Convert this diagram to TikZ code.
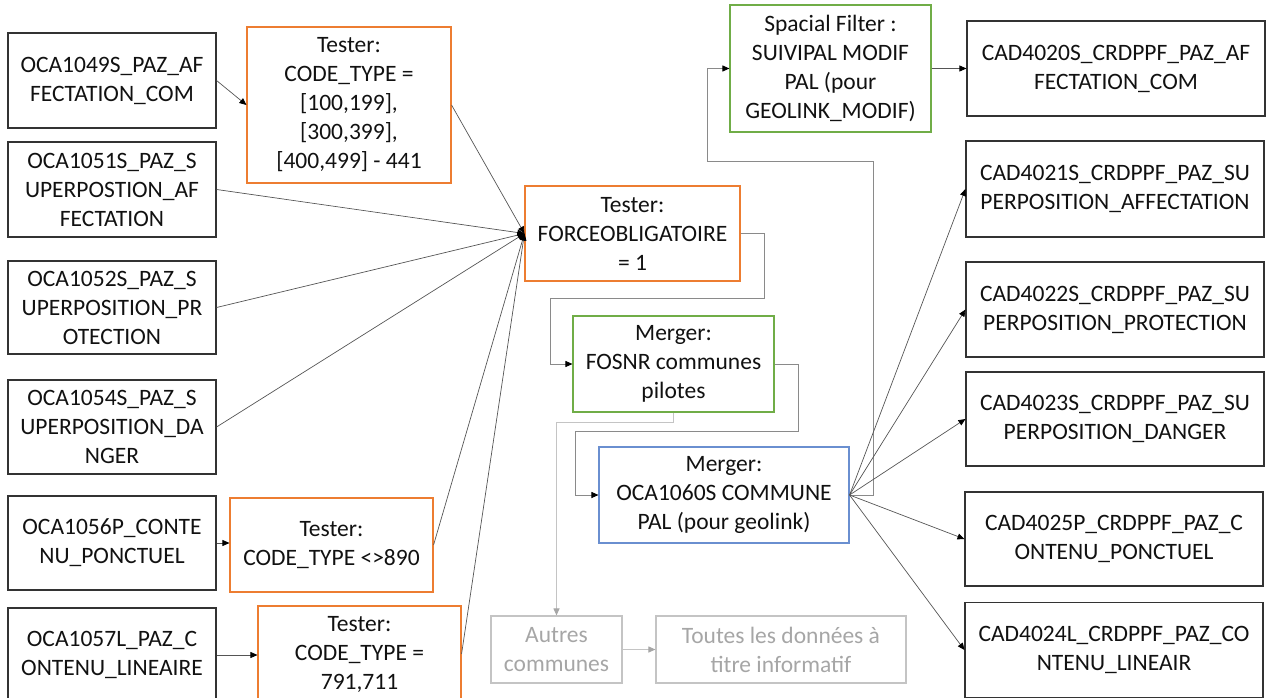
\documentclass[tikz,border=0pt]{standalone}
\usepackage{fontspec}
\setmainfont{Carlito}
\usetikzlibrary{arrows.meta}
\definecolor{orng}{HTML}{ED7D31}
\definecolor{grn}{HTML}{70AD47}
\definecolor{blu}{HTML}{6A8FD0}
\definecolor{txt}{HTML}{111111}
\definecolor{conn}{HTML}{555555}
\definecolor{elb}{HTML}{8A8A8A}
\definecolor{lgr}{HTML}{C4C4C4}
\definecolor{gtx}{HTML}{A6A6A6}
\tikzset{
  box/.style={draw, line width=1.1pt, inner sep=0pt, align=center, text=txt,
    font=\fontsize{23.5}{29}\selectfont},
  blk/.style={box, draw=black!80},
  org/.style={box, draw=orng},
  gre/.style={box, draw=grn},
  blb/.style={box, draw=blu},
  gry/.style={box, draw=lgr, text=gtx},
  arr/.style={draw=conn, line width=0.7pt, -{Triangle[length=7pt,width=6pt,color=black]}},
  elbarr/.style={draw=elb, line width=0.9pt, -{Triangle[length=7pt,width=6pt,color=black]}},
  garr/.style={draw=lgr, line width=0.9pt, -{Triangle[length=7pt,width=6pt,color=gtx]}},
}
\begin{document}
\begin{tikzpicture}[x=1pt,y=-1pt]
\useasboundingbox (0,0) rectangle (1268,698);
% left inputs
\node[blk, minimum width=208pt, minimum height=95pt] (l1) at (112,80.5) {OCA1049S\_PAZ\_AF\\FECTATION\_COM};
\node[blk, minimum width=208pt, minimum height=95pt] (l2) at (112,189.5) {OCA1051S\_PAZ\_S\\UPERPOSTION\_AF\\FECTATION};
\node[blk, minimum width=208pt, minimum height=93pt] (l3) at (112,307.5) {OCA1052S\_PAZ\_S\\UPERPOSITION\_PR\\OTECTION};
\node[blk, minimum width=208pt, minimum height=94pt] (l4) at (112,427) {OCA1054S\_PAZ\_S\\UPERPOSITION\_DA\\NGER};
\node[blk, minimum width=208pt, minimum height=94pt] (l5) at (112,543) {OCA1056P\_CONTE\\NU\_PONCTUEL};
\node[blk, minimum width=208pt, minimum height=94pt] (l6) at (112,655) {OCA1057L\_PAZ\_C\\ONTENU\_LINEAIRE};
% testers
\node[org, minimum width=204pt, minimum height=156pt] (t1) at (349,105) {Tester:\\CODE\_TYPE =\\{[}100,199{]},\\{[}300,399{]},\\{[}400,499{]} - 441};
\node[org, minimum width=215pt, minimum height=95pt] (tf) at (632.5,233.5) {Tester:\\FORCEOBLIGATOIRE\\= 1};
\node[org, minimum width=203pt, minimum height=94pt] (t2) at (331.5,545) {Tester:\\CODE\_TYPE <>890};
\node[org, minimum width=203pt, minimum height=96pt] (t3) at (359.5,654) {Tester:\\CODE\_TYPE =\\791,711};
% mergers
\node[gre, minimum width=201pt, minimum height=96pt] (m1) at (673.5,364) {Merger:\\FOSNR communes\\pilotes};
\node[blb, minimum width=250pt, minimum height=96pt] (m2) at (724,495) {Merger:\\OCA1060S COMMUNE\\PAL (pour geolink)};
\node[gre, minimum width=201pt, minimum height=127pt] (sf) at (830.5,68.5) {Spacial Filter :\\SUIVIPAL MODIF\\PAL (pour\\GEOLINK\_MODIF)};
% outputs
\node[blk, minimum width=298pt, minimum height=95pt] (r0) at (1116,68.5) {CAD4020S\_CRDPPF\_PAZ\_AF\\FECTATION\_COM};
\node[blk, minimum width=298pt, minimum height=96pt] (r1) at (1115,189) {CAD4021S\_CRDPPF\_PAZ\_SU\\PERPOSITION\_AFFECTATION};
\node[blk, minimum width=298pt, minimum height=95pt] (r2) at (1115,309.5) {CAD4022S\_CRDPPF\_PAZ\_SU\\PERPOSITION\_PROTECTION};
\node[blk, minimum width=298pt, minimum height=94pt] (r3) at (1115,419) {CAD4023S\_CRDPPF\_PAZ\_SU\\PERPOSITION\_DANGER};
\node[blk, minimum width=298pt, minimum height=94pt] (r4) at (1114,539) {CAD4025P\_CRDPPF\_PAZ\_C\\ONTENU\_PONCTUEL};
\node[blk, minimum width=298pt, minimum height=95pt] (r5) at (1114,650) {CAD4024L\_CRDPPF\_PAZ\_CO\\NTENU\_LINEAIR};
% gray
\node[gry, minimum width=131pt, minimum height=67pt] (g1) at (556.5,649.5) {Autres\\communes};
\node[gry, minimum width=250pt, minimum height=67pt] (g2) at (781,649.5) {Toutes les données à\\titre informatif};
% connectors
\draw[arr] (l1.east) -- (t1.west);
\draw[arr] (t1.east) -- (tf.west);
\draw[arr] (l2.east) -- (tf.west);
\draw[arr] (l3.east) -- (tf.west);
\draw[arr] (l4.east) -- (tf.west);
\draw[arr] (t2.east) -- (tf.west);
\draw[arr] (t3.east) -- (tf.west);
\draw[arr] (l5.east) -- (l5.east -| t2.west);
\draw[arr] (l6.east) -- (l6.east -| t3.west);
\draw[elbarr] (tf.east) -- ++(24,0) |- (550,298) |- (m1.west);
\draw[elbarr] (m1.east) -- ++(24,0) |- (575,431) |- (m2.west);
\draw[elbarr] (m2.east) -- ++(24,0) |- (707,161) |- (sf.west);
\draw[arr] (sf.east) -- (r0.west);
\draw[garr] (m1.south) -- ++(0,10) -| (g1.north);
\draw[garr] (g1.east) -- (g2.west);
\foreach \r in {r1,r2,r3,r4,r5} \draw[arr] (m2.east) -- (\r.west);
\end{tikzpicture}
\end{document}
